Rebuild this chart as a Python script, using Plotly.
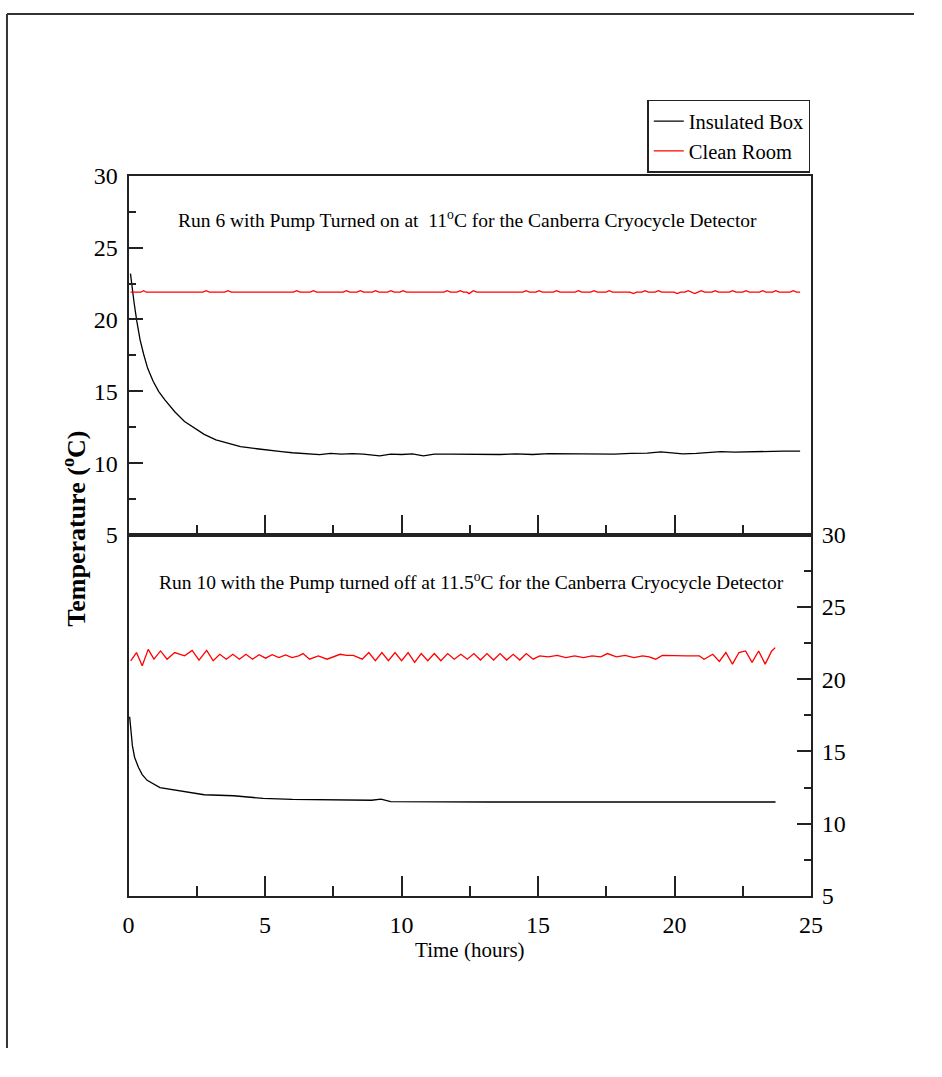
import plotly.graph_objects as go

# ---------------- data ----------------
# Top panel: Run 6, pump on
run6_box_t = [0.07, 0.13, 0.2, 0.3, 0.42, 0.55, 0.7, 0.9, 1.1, 1.33, 1.7, 2.05, 2.4, 2.77,
              3.2, 3.5, 4.1, 4.7, 5.2, 5.6, 6.0, 6.3, 6.7, 7.0, 7.4, 7.8, 8.2, 8.6, 9.2, 9.6,
              10.0, 10.4, 10.8, 11.2, 11.8, 12.4, 13.0, 13.6, 14.2, 14.8, 15.4, 16.0, 16.6,
              17.2, 17.8, 18.4, 19.0, 19.5, 19.9, 20.3, 20.8, 21.3, 21.7, 22.2, 22.8, 23.3,
              24.0, 24.6]
run6_box_v = [23.2, 22.2, 21.2, 19.9, 18.6, 17.6, 16.6, 15.7, 15.0, 14.4, 13.56, 12.9, 12.47,
              12.0, 11.62, 11.45, 11.15, 11.0, 10.86, 10.8, 10.72, 10.68, 10.64, 10.59, 10.68,
              10.62, 10.66, 10.62, 10.5, 10.62, 10.6, 10.64, 10.5, 10.62, 10.62, 10.6, 10.62,
              10.6, 10.64, 10.6, 10.66, 10.66, 10.62, 10.66, 10.62, 10.68, 10.7, 10.78, 10.7,
              10.64, 10.68, 10.72, 10.8, 10.76, 10.8, 10.84, 10.84, 10.84]

run6_room_t = [0.07, 0.45, 0.55, 0.65, 2.72, 2.84, 2.96, 3.52, 3.64, 3.76, 6.04, 6.16, 6.28,
               6.65, 6.77, 6.89, 7.86, 7.98, 8.10, 8.37, 8.49, 8.61, 8.93, 9.05, 9.17, 9.49,
               9.61, 9.73, 9.94, 10.06, 10.18, 11.55, 11.67, 11.79, 12.03, 12.15, 12.27, 12.40,
               12.47, 12.55, 12.63, 12.75, 14.44, 14.56, 14.68, 14.92, 15.04, 15.16, 15.56,
               15.68, 15.80, 16.36, 16.48, 16.60, 16.93, 17.05, 17.17, 17.49, 17.61, 17.73,
               18.37, 18.49, 18.61, 18.80, 18.92, 19.04, 19.29, 19.41, 19.53, 19.98, 20.10,
               20.22, 20.38, 20.50, 20.62, 20.74, 20.86, 20.98, 21.10, 21.37, 21.49, 21.61,
               22.01, 22.13, 22.25, 22.50, 22.62, 22.74, 23.11, 23.23, 23.35, 23.59, 23.71,
               23.83, 24.23, 24.35, 24.47, 24.6]
run6_room_v = [21.9, 21.9, 22.0, 21.9, 21.9, 22.0, 21.9, 21.9, 22.0, 21.9, 21.9, 22.0, 21.9,
               21.9, 22.0, 21.9, 21.9, 22.0, 21.9, 21.9, 22.0, 21.9, 21.9, 22.0, 21.9, 21.9,
               22.0, 21.9, 21.9, 22.0, 21.9, 21.9, 22.0, 21.9, 21.9, 22.0, 21.9, 21.9,
               21.8, 21.9, 22.0, 21.9, 21.9, 22.0, 21.9, 21.9, 22.0, 21.9, 21.9,
               22.0, 21.9, 21.9, 22.0, 21.9, 21.9, 22.0, 21.9, 21.9, 22.0, 21.9,
               21.9, 21.8, 21.9, 21.9, 22.0, 21.9, 21.9, 22.0, 21.9, 21.9, 21.8,
               21.9, 21.9, 22.0, 21.9, 21.8, 21.9, 22.0, 21.9, 21.9, 22.0, 21.9,
               21.9, 22.0, 21.9, 21.9, 22.0, 21.9, 21.9, 22.0, 21.9, 21.9, 22.0,
               21.9, 21.9, 22.0, 21.9, 21.9]

# Bottom panel: Run 10, pump off
run10_box_t = [0.04, 0.08, 0.14, 0.22, 0.36, 0.5, 0.68, 1.15, 1.87, 2.77, 3.85, 4.93, 6.0,
               7.8, 8.9, 9.25, 9.6, 13.2, 16.8, 20.4, 23.7]
run10_box_v = [17.4, 16.4, 15.4, 14.6, 13.9, 13.4, 13.0, 12.5, 12.27, 12.0, 11.93, 11.75, 11.68,
               11.65, 11.62, 11.7, 11.52, 11.5, 11.5, 11.5, 11.5]

run10_room_t = [0.08, 0.29, 0.50, 0.72, 0.93, 1.17, 1.41, 1.69, 1.89, 2.05, 2.33, 2.58, 2.86,
                3.10, 3.34, 3.58, 3.82, 4.06, 4.30, 4.54, 4.78, 5.02, 5.26, 5.51, 5.75, 5.99,
                6.23, 6.39, 6.63, 6.95, 7.27, 7.59, 7.75, 7.99, 8.23, 8.56, 8.80, 9.04, 9.28,
                9.52, 9.76, 10.0, 10.24, 10.48, 10.72, 10.96, 11.2, 11.44, 11.69, 11.93, 12.17,
                12.41, 12.65, 12.89, 13.13, 13.37, 13.61, 13.85, 14.09, 14.33, 14.57, 14.82,
                15.06, 15.38, 15.70, 16.02, 16.34, 16.66, 16.98, 17.30, 17.54, 17.87, 18.19,
                18.51, 18.83, 19.07, 19.31, 19.55, 19.95, 20.43, 20.91, 21.08, 21.40, 21.64,
                21.88, 22.12, 22.36, 22.60, 22.84, 23.08, 23.32, 23.56, 23.69]
run10_room_v = [21.28, 21.85, 20.94, 22.07, 21.39, 21.96, 21.39, 21.85, 21.73, 21.62, 22.0, 21.33,
                22.0, 21.28, 21.73, 21.39, 21.73, 21.39, 21.73, 21.39, 21.7, 21.46, 21.7, 21.5,
                21.68, 21.5, 21.62, 21.78, 21.39, 21.62, 21.39, 21.62, 21.73, 21.65, 21.65,
                21.39, 21.85, 21.28, 21.85, 21.28, 21.85, 21.28, 21.85, 21.17, 21.78, 21.28,
                21.78, 21.28, 21.78, 21.39, 21.73, 21.39, 21.78, 21.33, 21.78, 21.33, 21.78,
                21.33, 21.73, 21.33, 21.78, 21.39, 21.62, 21.55, 21.65, 21.5, 21.62, 21.5,
                21.62, 21.55, 21.78, 21.55, 21.65, 21.5, 21.62, 21.55, 21.39, 21.65, 21.62,
                21.62, 21.62, 21.39, 21.73, 21.24, 21.85, 21.05, 21.85, 21.96, 21.17, 21.96,
                21.05, 21.96, 22.19]

x_ticks = [0, 5, 10, 15, 20, 25]
y_ticks = [5, 10, 15, 20, 25, 30]
series_names = ["Insulated Box", "Clean Room"]
title_top = "Run 6 with Pump Turned on at  11<sup>o</sup>C for the Canberra Cryocycle Detector"
title_bottom = "Run 10 with the Pump turned off at 11.5<sup>o</sup>C for the Canberra Cryocycle Detector"

# ---------------- figure ----------------
# The page body keeps its default 8px margin, so the figure is sized to fit the
# 942x1077 window exactly and every position is measured from that offset.
PAGE_W, PAGE_H, OFF = 942, 1077, 8
W, H = PAGE_W - 2 * OFF, PAGE_H - 2 * OFF
FONT = "Liberation Serif, Times New Roman, serif"
AX = "#222222"

def px_x(p):
    return (p - OFF) / W

def px_y(p):
    return 1 - (p - OFF) / H

fig = go.Figure()
fig.add_trace(go.Scatter(x=run6_box_t, y=run6_box_v, mode="lines", name=series_names[0],
                         line=dict(color="black", width=1.3), xaxis="x", yaxis="y"))
fig.add_trace(go.Scatter(x=run6_room_t, y=run6_room_v, mode="lines", name=series_names[1],
                         line=dict(color="#ff0000", width=1.3), xaxis="x", yaxis="y"))
fig.add_trace(go.Scatter(x=run10_box_t, y=run10_box_v, mode="lines", name=series_names[0],
                         showlegend=False, line=dict(color="black", width=1.3),
                         xaxis="x2", yaxis="y2"))
fig.add_trace(go.Scatter(x=run10_room_t, y=run10_room_v, mode="lines", name=series_names[1],
                         showlegend=False, line=dict(color="#ff0000", width=1.3),
                         xaxis="x2", yaxis="y2"))

xdom = [px_x(133), px_x(829)]
common_x = dict(range=[0, 25], tickvals=x_ticks, ticks="inside", ticklen=20, tickwidth=1.5,
                tickcolor=AX, showline=True, linecolor=AX, linewidth=2, mirror=True,
                showgrid=False, zeroline=False,
                minor=dict(ticks="inside", ticklen=10, tickwidth=1.5, tickcolor=AX,
                           dtick=2.5, tick0=0, showgrid=False),
                domain=xdom)
common_y = dict(range=[5, 30], tickvals=y_ticks, ticks="inside", ticklen=14, tickwidth=1.5,
                tickcolor=AX, showline=True, linecolor=AX, linewidth=2, mirror=True,
                showgrid=False, zeroline=False,
                minor=dict(ticks="inside", ticklen=7, tickwidth=1.5, tickcolor=AX,
                           dtick=2.5, tick0=0, showgrid=False),
                tickfont=dict(family=FONT, size=24, color="black"))

fig.update_layout(
    width=W, height=H,
    margin=dict(l=0, r=0, t=0, b=0),
    paper_bgcolor="white", plot_bgcolor="white",
    font=dict(family=FONT, color="black"),
    xaxis=dict(common_x, anchor="y", showticklabels=False),
    yaxis=dict(common_y, anchor="x", domain=[px_y(543), px_y(175)], side="left",
               ticklabelstandoff=4),
    xaxis2=dict(common_x, anchor="y2", showticklabels=True,
                tickfont=dict(family=FONT, size=24, color="black"),
                ticklabelstandoff=6,
                title=dict(text="Time (hours)", font=dict(family=FONT, size=21), standoff=6)),
    yaxis2=dict(common_y, anchor="x2", domain=[px_y(913), px_y(543)], side="right",
                ticklabelstandoff=4),
    showlegend=True,
    legend=dict(x=px_x(662), y=px_y(97), xanchor="left", yanchor="top",
                bordercolor=AX, borderwidth=1.5, bgcolor="white",
                font=dict(family=FONT, size=20.5, color="black"),
                tracegroupgap=0, itemwidth=30),
)

fig.add_annotation(text=title_top, x=px_x(479), y=px_y(219), xref="paper", yref="paper",
                   xanchor="center", yanchor="middle", showarrow=False,
                   font=dict(family=FONT, size=19.5, color="black"))
fig.add_annotation(text=title_bottom, x=px_x(483), y=px_y(590), xref="paper", yref="paper",
                   xanchor="center", yanchor="middle", showarrow=False,
                   font=dict(family=FONT, size=19.5, color="black"))
fig.add_annotation(text="<b>Temperature (<sup>o</sup>C)</b>", x=px_x(77), y=px_y(537),
                   xref="paper", yref="paper", xanchor="center", yanchor="middle",
                   showarrow=False, textangle=-90,
                   font=dict(family=FONT, size=26, color="black"))

# page frame (top and left border of the original page), as close to the edge as the page allows
fx, fy = 1.0 / W, 1 - 1.0 / H
fig.add_shape(type="line", xref="paper", yref="paper", x0=fx, x1=1, y0=fy, y1=fy,
              line=dict(color="#333333", width=2))
fig.add_shape(type="line", xref="paper", yref="paper", x0=fx, x1=fx, y0=0, y1=fy,
              line=dict(color="#333333", width=2))

fig.write_html("out.html")
